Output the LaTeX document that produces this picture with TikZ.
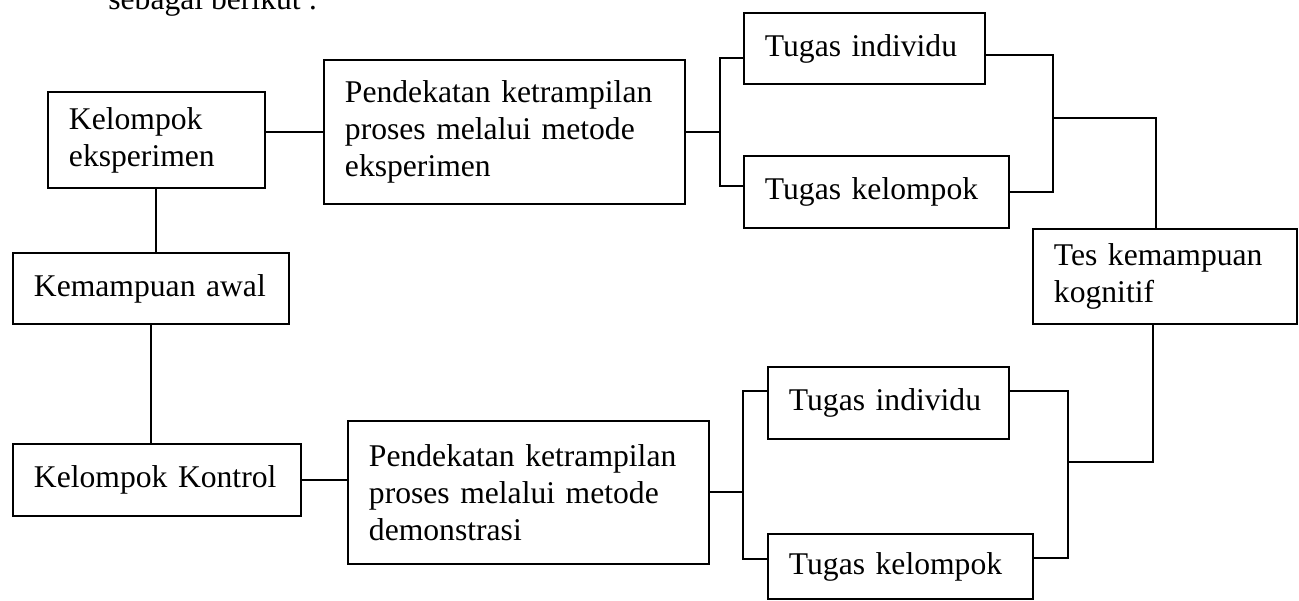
\documentclass[tikz,border=0pt]{standalone}
\usepackage{fontspec}
\setmainfont{Liberation Serif}
\usepackage{tikz}
\usetikzlibrary{positioning,calc}

\begin{document}
\begin{tikzpicture}[
    x=0.02cm, y=-0.02cm,
    font=\fontsize{18}{21}\selectfont,
    box/.style={draw, line width=1.1pt, align=left, anchor=north west,
                inner xsep=0.42cm, inner ysep=0pt},
    conn/.style={line width=1.1pt}
]
  \path[use as bounding box, fill=white] (0,0) rectangle (1299,600);

  \node[anchor=base west, inner sep=0pt] (intro) at (108,9) {sebagai berikut :};

  % kelompok
  \node[box, text width=3.5cm, minimum height=1.92cm] (eks) at (47,91) {Kelompok\\eksperimen};
  \node[box, text width=4.68cm, minimum height=1.42cm] (awal) at (12,252) {Kemampuan awal};
  \node[box, text width=4.92cm, minimum height=1.44cm] (kontrol) at (12,443) {Kelompok Kontrol};

  % pendekatan
  \node[box, text width=6.38cm, minimum height=2.88cm] (pend1) at (323,59)
       {Pendekatan ketrampilan\\proses melalui metode\\eksperimen};
  \node[box, text width=6.38cm, minimum height=2.86cm] (pend2) at (347,420)
       {Pendekatan ketrampilan\\proses melalui metode\\demonstrasi};

  % tugas
  \node[box, text width=3.98cm, minimum height=1.42cm] (ind1) at (743,12) {Tugas individu};
  \node[box, text width=4.46cm, minimum height=1.44cm] (kel1) at (743,155) {Tugas kelompok};
  \node[box, text width=3.98cm, minimum height=1.44cm] (ind2) at (767,366) {Tugas individu};
  \node[box, text width=4.46cm, minimum height=1.3cm] (kel2) at (767,533) {Tugas kelompok};

  \node[box, text width=4.44cm, minimum height=1.9cm] (tes) at (1032,228) {Tes kemampuan\\kognitif};

  \coordinate (b1) at (720,131);
  \coordinate (j1) at (1053,118);
  \coordinate (b2) at (743,486);
  \coordinate (j2) at (1068,462);

  \draw[conn] (eks.south) -- (eks.south |- awal.north);
  \draw[conn] (awal.south) -- (awal.south |- kontrol.north);
  \draw[conn] (pend1.west -| eks.east) -- (pend1.west);
  \draw[conn] (kontrol.east) -- (kontrol.east -| pend2.west);

  \draw[conn] (pend1.east) -- (pend1.east -| b1);
  \draw[conn] ([yshift=-5.4pt]ind1.west) -| (b1) |- ([yshift=3.4pt]kel1.west);
  \draw[conn] ([yshift=-3.7pt]ind1.east) -| (j1) |- (kel1.east);
  \draw[conn] (j1) -| ([xshift=-5pt]tes.north);

  \draw[conn] (pend2.east) -- (pend2.east -| b2);
  \draw[conn] ([yshift=6.8pt]ind2.west) -| (b2) |- ([yshift=4.3pt]kel2.west);
  \draw[conn] ([yshift=6.8pt]ind2.east) -| (j2) |- ([yshift=4.8pt]kel2.east);
  \draw[conn] (j2) -| ([xshift=-6.8pt]tes.south);
\end{tikzpicture}
\end{document}
